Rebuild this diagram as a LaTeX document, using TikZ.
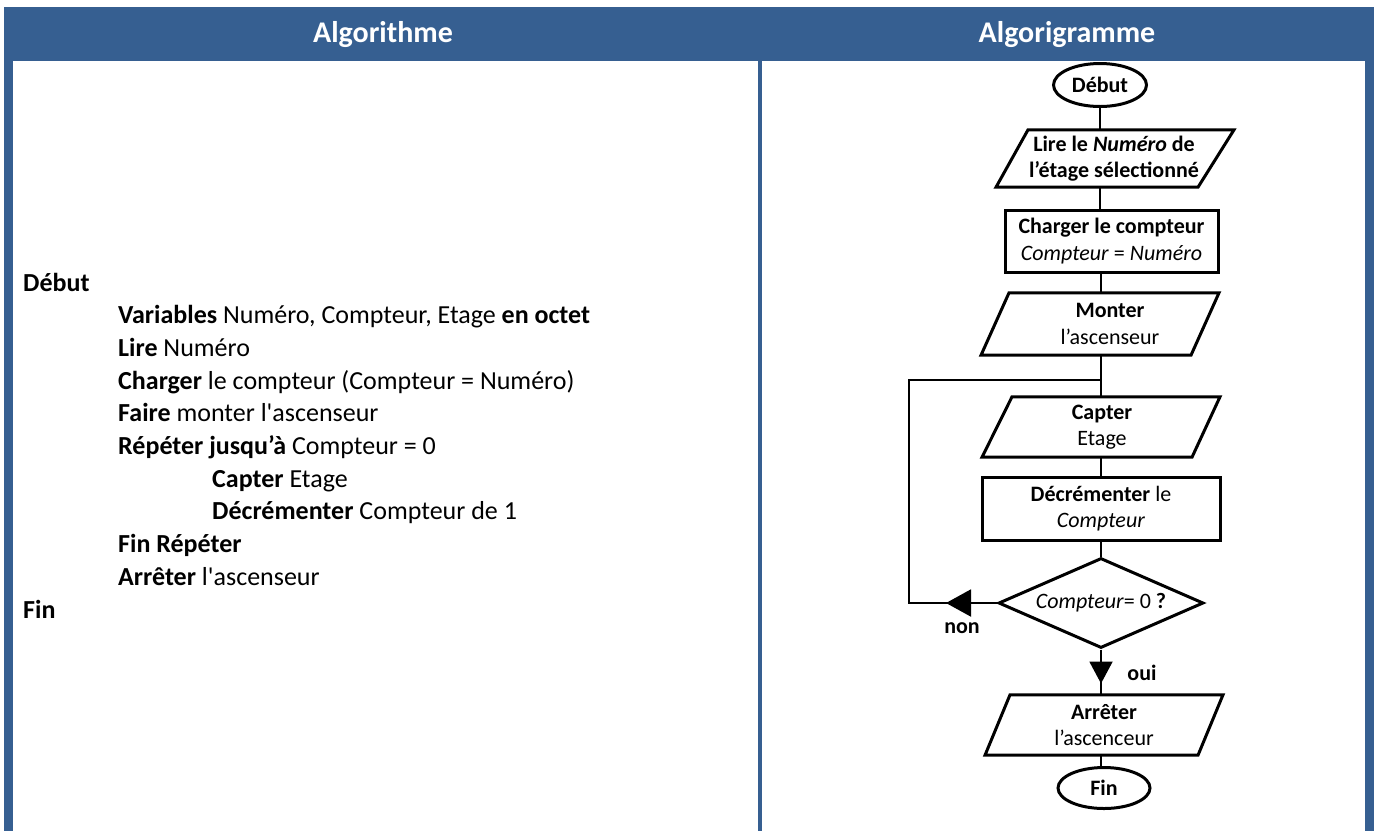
\documentclass[tikz,border=0pt]{standalone}
\usepackage{fontspec}
\setmainfont{Carlito}
\usetikzlibrary{shapes.geometric,calc,decorations.markings,arrows.meta}
\definecolor{hdr}{RGB}{54,95,145}
\newcommand\paraframe[5]{\draw[frame] ($(#1.north)+(#2,0)$) -- ($(#1.north)+(#3,0)$) -- ($(#1.south)+(#4,0)$) -- ($(#1.south)+(#5,0)$) -- cycle;}
\begin{document}
\begin{tikzpicture}[x=1pt,y=-1pt,
  hdrtxt/.style={text=white,font=\fontsize{30}{36}\selectfont\bfseries,inner sep=0},
  algo/.style={anchor=base west,inner sep=0,font=\fontsize{26}{31}\selectfont},
  ftxt/.style={align=center,inner sep=0,font=\fontsize{22}{26.5}\selectfont},
  frame/.style={line width=3pt,line join=miter},
  term/.style={ftxt,ellipse,draw,line width=3pt},
  proc/.style={ftxt,draw,line width=3pt},
  iobox/.style={ftxt},
  decision/.style={ftxt,diamond,draw,line width=3pt,aspect=2.28},
  conn/.style={line width=2pt},
  lbl/.style={inner sep=0,font=\fontsize{22}{26.5}\selectfont\bfseries}]
\useasboundingbox (0,0) rectangle (1375,831);
% table frame
\fill[hdr] (4,7) rectangle (1374,61);
\fill[hdr] (4,61) rectangle (13,831);
\fill[hdr] (758,61) rectangle (762,831);
\fill[hdr] (1365,61) rectangle (1374,831);
\node[hdrtxt] (h1) at (383,35) {Algorithme};
\node[hdrtxt] (h2) at (1067,35) {Algorigramme};
% algorithm text
\node[algo] (a1) at (23,291) {\textbf{Début}};
\node[algo] (a2) at (118,323.7) {\textbf{Variables} Numéro, Compteur, Etage \textbf{en octet}};
\node[algo] (a3) at (118,356.4) {\textbf{Lire} Numéro};
\node[algo] (a4) at (118,389.1) {\textbf{Charger} le compteur (Compteur = Numéro)};
\node[algo] (a5) at (118,421.8) {\textbf{Faire} monter l\textquotesingle ascenseur};
\node[algo] (a6) at (118,454.5) {\textbf{Répéter jusqu’à} Compteur = 0};
\node[algo] (a7) at (212,487.2) {\textbf{Capter} Etage};
\node[algo] (a8) at (212,519.9) {\textbf{Décrémenter} Compteur de 1};
\node[algo] (a9) at (118,552.6) {\textbf{Fin Répéter}};
\node[algo] (a10) at (118,585.3) {\textbf{Arrêter} l\textquotesingle ascenseur};
\node[algo] (a11) at (23,618) {\textbf{Fin}};
% flowchart
\node[term,minimum width=93,minimum height=43] (deb) at (1100,85) {\textbf{Début}};
\node[iobox,minimum height=57] (p1) at (1114,158.5) {\textbf{Lire le \textit{Numéro} de}\\\textbf{l’étage sélectionné}};
\paraframe{p1}{-86}{120}{84}{-118}
\node[proc,minimum width=213,minimum height=62] (r1) at (1111.5,241) {\textbf{Charger le compteur}\\\textit{Compteur} = \textit{Numéro}};
\node[iobox,minimum height=62] (p2) at (1110,324) {\textbf{Monter}\\l’ascenseur};
\paraframe{p2}{-101}{109}{81}{-129}
\node[iobox,minimum height=60] (p3) at (1102,427) {\textbf{Capter}\\Etage};
\paraframe{p3}{-90}{118}{90}{-120}
\node[proc,minimum width=238,minimum height=63] (r2) at (1101,508.5) {\textbf{Décrémenter} le\\\textit{Compteur}};
\node[decision,minimum width=205,minimum height=90] (dec) at (1101,603) {\textit{Compteur}= 0 \textbf{?}};
\node[iobox,minimum height=60] (p4) at (1104,725) {\textbf{Arrêter}\\l’ascenceur};
\paraframe{p4}{-94}{119}{94}{-119}
\node[term,minimum width=92,minimum height=41] (fin) at (1104,788) {\textbf{Fin}};
\coordinate (j) at (1101,380);
\coordinate (lc) at (909,603);
% connectors
\draw[conn] (deb.south) -- (deb.south |- p1.north);
\draw[conn] (deb.south |- p1.south) -- (deb.south |- r1.north);
\draw[conn] (j |- r1.south) -- (j |- p2.north);
\draw[conn] (j |- p2.south) -- (j |- p3.north);
\draw[conn] (j |- p3.south) -- (j |- r2.north);
\draw[conn] (r2.south) -- (dec.north);
\draw[conn,line join=miter,decoration={markings,mark=at position 51pt with {\arrow{Triangle[length=25pt,width=27pt]}}},postaction={decorate}] (dec.west) -- (lc) |- (j);
\draw[conn,decoration={markings,mark=at position 34pt with {\arrow{Triangle[length=22pt,width=23pt]}}},postaction={decorate}] (dec.south) -- (dec.south |- p4.north);
\draw[conn] (dec.south |- p4.south) -- (dec.south |- fin.north);
\node[lbl] (non) at (962,628) {non};
\node[lbl] (oui) at (1142,673) {oui};
\end{tikzpicture}
\end{document}
